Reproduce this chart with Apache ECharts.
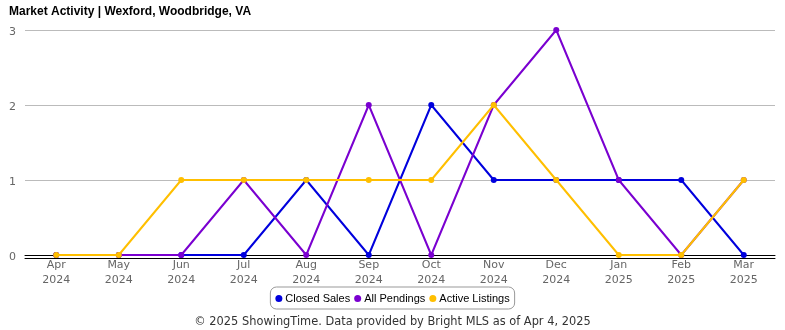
<!DOCTYPE html>
<html><head><meta charset="utf-8">
<script src="https://cdn.jsdelivr.net/npm/echarts@6/dist/echarts.min.js"></script>
<style>html,body{margin:0;padding:0;background:#fff}#c{width:785px;height:330px}</style>
</head><body><div id="c"></div>
<script>
const categories = ['Apr\n2024','May\n2024','Jun\n2024','Jul\n2024','Aug\n2024','Sep\n2024','Oct\n2024','Nov\n2024','Dec\n2024','Jan\n2025','Feb\n2025','Mar\n2025'];
const closedSales = [0,0,0,0,1,0,2,1,1,1,1,0];
const allPendings = [0,0,0,1,0,2,0,2,3,1,0,1];
const activeListings = [0,0,1,1,1,1,1,2,1,0,0,1];
const yTicks = [0,1,2,3];

const chart = echarts.init(document.getElementById('c'));
const mk = (name, data, color, z) => ({
  name, type:'line', data, z, xAxisIndex:0,
  symbol:'circle', symbolSize:6,
  itemStyle:{color}, lineStyle:{color, width:2},
  emphasis:{disabled:true}
});
chart.setOption({
  animation:false,
  title:{text:'Market Activity | Wexford, Woodbridge, VA', left:4, top:1,
    textStyle:{fontFamily:'Liberation Sans', fontWeight:'bold', fontSize:12, color:'#000'}},
  grid:{left:25, right:10, top:30, bottom:75, outerBoundsMode:'none', containLabel:false},
  xAxis:[{
    type:'category', data:categories, boundaryGap:true, position:'bottom',
    axisLine:{show:true, lineStyle:{color:'#000', width:1}},
    axisTick:{show:false}, axisLabel:{show:false}, splitLine:{show:false}
  },{
    type:'category', data:categories, boundaryGap:true, offset:3, position:'bottom',
    axisLine:{show:true, lineStyle:{color:'#000', width:1}},
    axisTick:{show:false},
    axisLabel:{color:'#666', fontFamily:'DejaVu Sans', fontSize:11, lineHeight:15, margin:0}
  }],
  yAxis:{
    type:'value', min:yTicks[0], max:yTicks[yTicks.length-1], interval:1,
    axisLine:{show:false}, axisTick:{show:false},
    axisLabel:{color:'#666', fontFamily:'DejaVu Sans', fontSize:11, margin:9, verticalAlign:'top', lineHeight:4},
    splitLine:{lineStyle:{color:'#bbb', width:1}}
  },
  legend:{
    bottom:21, left:'center', itemWidth:7, itemHeight:7, itemGap:4,
    icon:'circle', borderColor:'#999', borderWidth:1, borderRadius:6,
    padding:[6,5,5,5],
    textStyle:{fontFamily:'Liberation Sans', fontSize:11, color:'#000', padding:[0,0,0,-2]},
    data:['Closed Sales','All Pendings','Active Listings']
  },
  graphic:[{type:'text', left:'center', bottom:2,
    style:{text:'© 2025 ShowingTime. Data provided by Bright MLS as of Apr 4, 2025',
      font:'11.4px "DejaVu Sans"', fill:'#333'}}],
  series:[
    mk('Closed Sales', closedSales, '#0000dd', 2),
    mk('All Pendings', allPendings, '#7a00d0', 3),
    mk('Active Listings', activeListings, '#ffbf00', 4)
  ]
});
</script></body></html>
